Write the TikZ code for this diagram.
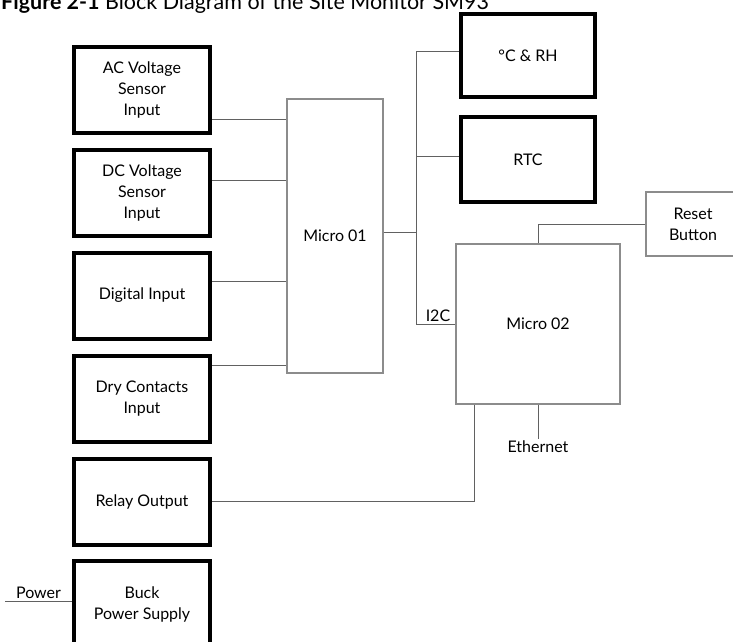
\documentclass[tikz,border=0pt]{standalone}
\usepackage{fontspec}
\setmainfont{Lato}
\begin{document}
\begin{tikzpicture}[x=1pt, y=-1pt, font=\fontsize{16}{21}\selectfont,
    thickbox/.style={draw, line width=4pt, minimum width=136pt, minimum height=86pt, align=center, inner sep=0pt},
    thinbox/.style={draw=black!45, line width=1.2pt, align=center, inner sep=0pt},
    wire/.style={draw=black!62, line width=1pt}]
    \useasboundingbox (0,0) rectangle (733,642);
    % caption, its top is cut by the page edge
    \node[anchor=base west, inner sep=0pt, font=\fontsize{21.5}{26}\selectfont] (title) at (1,10) {\textbf{Figure 2-1} Block Diagram of the Site Monitor SM93};
    % left column
    \node[thickbox] (ac) at (142,90) {AC Voltage\\Sensor\\Input};
    \node[thickbox] (dc) at (142,192.5) {DC Voltage\\Sensor\\Input};
    \node[thickbox] (dig) at (142,295.5) {Digital Input};
    \node[thickbox] (dry) at (142,398.5) {Dry Contacts\\Input};
    \node[thickbox] (relay) at (142,501.5) {Relay Output};
    \node[thickbox] (buck) at (142,604) {Buck\\Power Supply};
    % micros and peripherals
    \node[thinbox, minimum width=96pt, minimum height=274pt] (m1) at (335,236) {Micro 01};
    \node[thickbox, minimum width=134pt, minimum height=83pt] (chr) at (528,55.5) {°C \& RH};
    \node[thickbox, minimum width=134pt, minimum height=85pt] (rtc) at (528,159.5) {RTC};
    \node[thinbox, minimum width=164pt, minimum height=160pt] (m2) at (538,324) {Micro 02};
    \node[thinbox, minimum width=94pt, minimum height=64pt] (rst) at (693,224) {Reset\\Button};
    \node[anchor=north, inner sep=2pt] (eth) at (538,439) {Ethernet};
    \node[anchor=south east, inner sep=2pt] (i2c) at ([xshift=-3pt]m2.west) {I2C};
    % bus
    \coordinate (bustop) at (416,52);
    \coordinate (busbot) at (416,324);
    \coordinate (pwr) at (5,601);
    % wires
    \draw[wire] (ac.east |- 0,119) -- (m1.west |- 0,119);
    \draw[wire] (dc.east |- 0,180) -- (m1.west |- 0,180);
    \draw[wire] (dig.east |- 0,281) -- (m1.west |- 0,281);
    \draw[wire] (dry.east |- 0,365) -- (m1.west |- 0,365);
    \draw[wire] (chr.west |- bustop) -- (bustop) -- (busbot) -- (m2.west);
    \draw[wire] (rtc.west |- 0,156) -- (bustop |- 0,156);
    \draw[wire] (m1.east |- 0,232) -- (bustop |- 0,232);
    \draw[wire] (rst.west) -| (m2.north);
    \draw[wire] (m2.south) -- (eth.north);
    \draw[wire] (relay.east) -| ([xshift=19pt]m2.south west);
    \draw[wire] (pwr) -- (buck.west |- pwr) node[midway, above, inner sep=2pt] (pwrlbl) {Power};
\end{tikzpicture}
\end{document}
